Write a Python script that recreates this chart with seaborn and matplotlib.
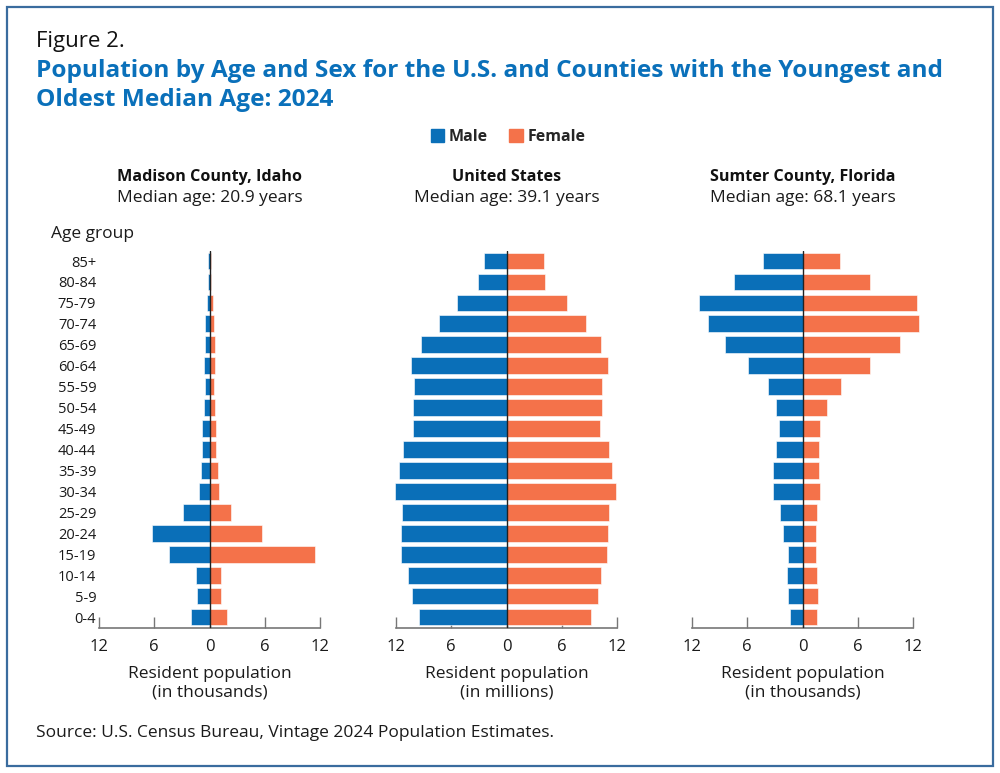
import matplotlib
matplotlib.use("Agg")
import matplotlib.pyplot as plt
from matplotlib.patches import Patch, Rectangle
from matplotlib.ticker import FuncFormatter
import seaborn as sns
import pandas as pd

# age groups, top to bottom
age_groups = ["85+", "80-84", "75-79", "70-74", "65-69", "60-64", "55-59", "50-54", "45-49",
              "40-44", "35-39", "30-34", "25-29", "20-24", "15-19", "10-14", "5-9", "0-4"]

# Madison County, Idaho (thousands)
madison_male = [0.15, 0.2, 0.3, 0.47, 0.54, 0.58, 0.5, 0.6, 0.8,
                0.83, 0.87, 1.1, 2.85, 6.28, 4.44, 1.5, 1.37, 2.06]
madison_female = [0.15, 0.2, 0.35, 0.5, 0.6, 0.6, 0.54, 0.6, 0.72,
                  0.76, 0.87, 1.08, 2.3, 5.7, 11.5, 1.3, 1.26, 1.9]

# United States (millions)
us_male = [2.39, 3.14, 5.42, 7.37, 9.29, 10.37, 10.05, 10.19, 10.12,
           11.24, 11.67, 12.14, 11.38, 11.46, 11.46, 10.7, 10.3, 9.5]
us_female = [4.05, 4.19, 6.58, 8.6, 10.23, 10.99, 10.34, 10.34, 10.19,
             11.17, 11.49, 11.93, 11.1, 11.02, 10.95, 10.23, 9.9, 9.14]

# Sumter County, Florida (thousands)
sumter_male = [4.33, 7.4, 11.23, 10.22, 8.38, 5.92, 3.8, 2.92, 2.56,
               2.85, 3.25, 3.25, 2.45, 2.1, 1.55, 1.66, 1.62, 1.41]
sumter_female = [4.04, 7.33, 12.42, 12.7, 10.6, 7.37, 4.15, 2.64, 1.91,
                 1.84, 1.84, 1.91, 1.62, 1.44, 1.44, 1.62, 1.66, 1.59]

panel_titles = ["Madison County, Idaho", "United States", "Sumter County, Florida"]
panel_medians = ["Median age: 20.9 years", "Median age: 39.1 years", "Median age: 68.1 years"]
panel_units = ["(in thousands)", "(in millions)", "(in thousands)"]
x_ticks = [-12, -6, 0, 6, 12]

MALE = "#0a6fb8"
FEMALE = "#f4724a"
TITLE_BLUE = "#0a70ba"

sns.set_theme(style="white")
plt.rcParams["font.family"] = ["Open Sans", "DejaVu Sans"]

fig = plt.figure(figsize=(10, 7.73), dpi=100)

panels = [(madison_male, madison_female), (us_male, us_female), (sumter_male, sumter_female)]
lefts = [0.099, 0.396, 0.692]
centers = [0.2095, 0.5065, 0.803]

for i, (male, female) in enumerate(panels):
    ax = fig.add_axes([lefts[i], 0.1882, 0.221, 0.4877])
    df = pd.DataFrame({"age": age_groups, "male": [-v for v in male], "female": female})
    sns.barplot(data=df, x="male", y="age", order=age_groups, color=MALE, saturation=1,
                width=0.8, edgecolor="white", linewidth=0.4, orient="h", ax=ax)
    sns.barplot(data=df, x="female", y="age", order=age_groups, color=FEMALE, saturation=1,
                width=0.8, edgecolor="white", linewidth=0.4, orient="h", ax=ax)
    for p in ax.patches:
        p.set_clip_on(False)
    ax.axvline(0, color="#222222", lw=1, zorder=5)
    ax.set_xlim(-12, 12)
    ax.set_ylim(17.5, -0.5)
    ax.set_xticks(x_ticks)
    ax.xaxis.set_major_formatter(FuncFormatter(lambda v, pos: f"{abs(int(v))}"))
    ax.tick_params(axis="x", direction="in", length=8, width=1, color="#777777",
                   labelsize=12, pad=8, labelcolor="#1a1a1a", bottom=True)
    ax.tick_params(axis="y", length=0, labelsize=10.5, pad=2, labelcolor="#1a1a1a")
    for s in ["top", "right", "left"]:
        ax.spines[s].set_visible(False)
    ax.spines["bottom"].set_color("#777777")
    ax.spines["bottom"].set_linewidth(1.2)
    ax.set_ylabel("")
    ax.set_xlabel("Resident population\n" + panel_units[i], fontsize=12.5, labelpad=8,
                  color="#1a1a1a", linespacing=1.25)
    if i > 0:
        ax.set_yticklabels([])
    ax.set_facecolor("none")

    fig.text(centers[i], 1 - 177 / 773, panel_titles[i], ha="center", va="center",
             fontsize=11.6, fontweight="bold", color="#111111")
    fig.text(centers[i], 1 - 198 / 773, panel_medians[i], ha="center", va="center",
             fontsize=12.5, color="#1a1a1a")

fig.text(0.051, 1 - 234 / 773, "Age group", ha="left", va="center", fontsize=12.5, color="#1a1a1a")

fig.text(0.036, 1 - 41 / 773, "Figure 2.", ha="left", va="center", fontsize=16, color="#111111")
fig.text(0.036, 1 - 85.5 / 773,
         "Population by Age and Sex for the U.S. and Counties with the Youngest and\nOldest Median Age: 2024",
         ha="left", va="center", fontsize=17.6, fontweight="bold", color=TITLE_BLUE, linespacing=1.33)

handles = [Patch(color=MALE, label="Male"), Patch(color=FEMALE, label="Female")]
leg = fig.legend(handles=handles, loc="center", bbox_to_anchor=(0.508, 1 - 137 / 773), ncol=2,
                 frameon=False, handlelength=0.85, handleheight=0.85, handletextpad=0.3,
                 columnspacing=1.3, prop={"size": 11.5, "weight": "bold"})

fig.text(0.036, 1 - 733 / 773, "Source: U.S. Census Bureau, Vintage 2024 Population Estimates.",
         ha="left", va="center", fontsize=12.5, color="#1a1a1a")

fig.patches.append(Rectangle((0.007, 0.009), 0.986, 0.982, transform=fig.transFigure,
                             fill=False, edgecolor="#3a6c9e", lw=1.6))

fig.savefig("out.png", dpi=100)
